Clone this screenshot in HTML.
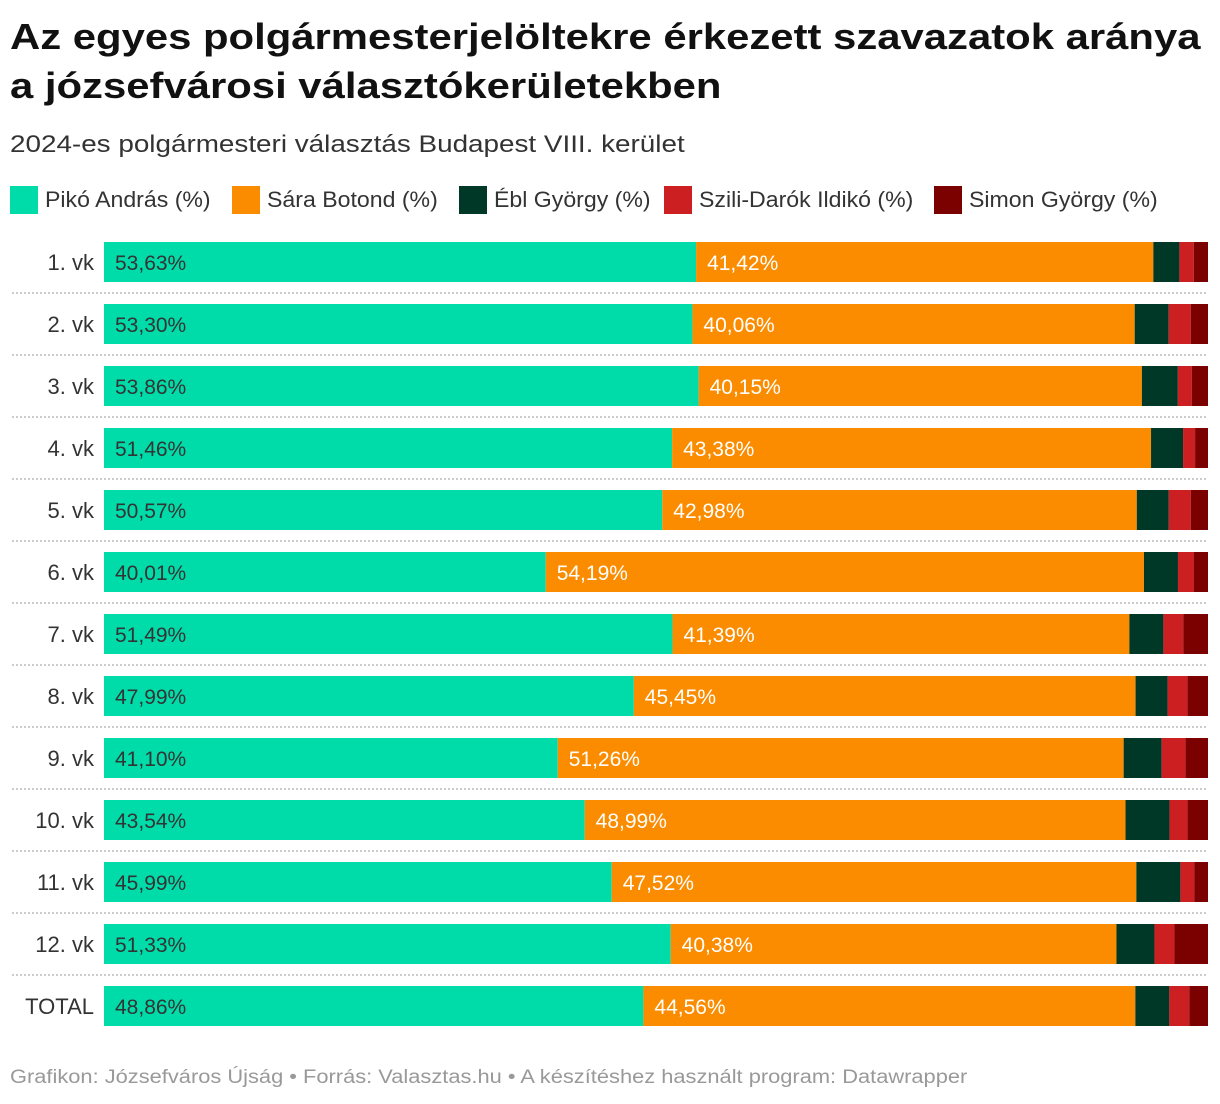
<!DOCTYPE html>
<html><head><meta charset="utf-8"><style>
body{margin:0;width:1220px;height:1104px;background:#fff;font-family:"Liberation Sans",sans-serif;position:relative;overflow:hidden}
.t{position:absolute;left:10px;font-weight:bold;font-size:36px;color:#111;line-height:49px;top:12px;transform:scaleX(1.162);transform-origin:0 0;white-space:nowrap}
.s{position:absolute;left:10px;top:131px;font-size:24px;color:#333;transform:scaleX(1.16);transform-origin:0 0;white-space:nowrap}
.li{position:absolute;top:186px;display:flex;align-items:center;font-size:22px;color:#333;white-space:nowrap}
.li span{display:inline-block;transform:scaleX(1.05);transform-origin:0 50%}
.sw{width:28px;height:28px;margin-right:7px}
.f{position:absolute;left:10px;top:1067px;font-size:19px;color:#999;transform:scaleX(1.15);transform-origin:0 0;white-space:nowrap}
</style></head><body>
<div class="t">Az egyes polgármesterjelöltekre érkezett szavazatok aránya<br>a józsefvárosi választókerületekben</div>
<div class="s">2024-es polgármesteri választás Budapest VIII. kerület</div>
<div id="lg"></div>
<svg id="c" width="1220" height="1104" style="position:absolute;left:0;top:0"></svg>
<div class="f">Grafikon: Józsefváros Újság • Forrás: Valasztas.hu • A készítéshez használt program: Datawrapper</div>
<script>
const categories=["1. vk","2. vk","3. vk","4. vk","5. vk","6. vk","7. vk","8. vk","9. vk","10. vk","11. vk","12. vk","TOTAL"];
const piko=[53.63,53.30,53.86,51.46,50.57,40.01,51.49,47.99,41.10,43.54,45.99,51.33,48.86];
const sara=[41.42,40.06,40.15,43.38,42.98,54.19,41.39,45.45,51.26,48.99,47.52,40.38,44.56];
const ebl=[2.36,3.08,3.26,2.9,2.9,3.08,3.08,2.9,3.44,3.99,3.99,3.44,3.08];
const szili=[1.3,2.0,1.27,1.09,2.0,1.45,1.81,1.81,2.17,1.63,1.27,1.81,1.81];
const simon=[1.29,1.56,1.46,1.17,1.55,1.27,2.23,1.85,2.03,1.85,1.23,3.04,1.69];
const names=["Pikó András (%)","Sára Botond (%)","Ébl György (%)","Szili-Darók Ildikó (%)","Simon György (%)"];
const colors=["#00dca9","#fb8c00","#003828","#cc1f22","#7b0000"];
const legendX=[10,232,459,664,934];
const series=[piko,sara,ebl,szili,simon];
const NS="http://www.w3.org/2000/svg",svg=document.getElementById('c');
const x0=104,x1=1208,xs=v=>v/100*(x1-x0);
const y=i=>242+i*62,bh=40;
const lg=document.getElementById('lg');
names.forEach((n,k)=>{const d=document.createElement('div');d.className='li';d.style.left=legendX[k]+'px';


d.innerHTML='<div class="sw" style="background:'+colors[k]+'"></div><span>'+n+'</span>';lg.appendChild(d);});
function el(t,a){const e=document.createElementNS(NS,t);for(const k in a)e.setAttribute(k,a[k]);svg.appendChild(e);return e;}
categories.forEach((c,i)=>{
 const l=el('text',{x:94,y:y(i)+28,'text-anchor':'end','font-size':22,fill:'#333'});l.textContent=c;
 
 
 let cx=x0;
 series.forEach((s,k)=>{const w=xs(s[i]);
  const r=el('rect',{x:cx,y:y(i),width:w,height:bh,fill:colors[k]});
  
  
  if(k<2){const t=el('text',{x:cx+11,y:y(i)+28,'font-size':21,fill:k==0?'#333':'#fff'});t.textContent=s[i].toFixed(2).replace('.',',')+'%';
   
   }
  cx+=w;});
 if(i<categories.length-1){const ln=el('line',{x1:12,x2:1208,y1:y(i)+51,y2:y(i)+51,stroke:'#ccc','stroke-width':2,'stroke-dasharray':'2,2'});
  
  }
});
</script>
</body></html>
